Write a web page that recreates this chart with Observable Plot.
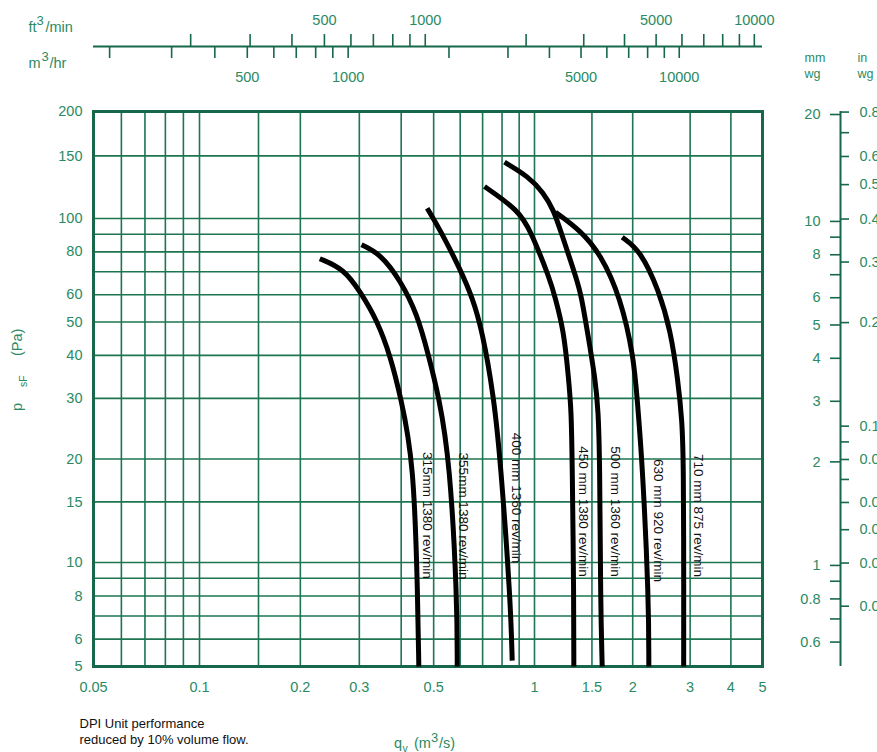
<!DOCTYPE html>
<html><head><meta charset="utf-8">
<script src="https://cdn.jsdelivr.net/npm/d3@7"></script>
<script src="https://cdn.jsdelivr.net/npm/@observablehq/plot@0.6"></script>
<style>
html,body{margin:0;padding:0;background:#fff;}
#chart svg{display:block;}
</style></head><body><div id="chart"></div>
<script>
// ---- axis / grid values ----
const xGrid = [0.06,0.07,0.08,0.09,0.1,0.15,0.2,0.3,0.4,0.5,0.6,0.7,0.8,0.9,1,1.5,2,3,4];
const xTickLabels = [0.05,0.1,0.2,0.3,0.5,1,1.5,2,3,4,5];
const yGrid = [6,7,8,9,10,15,20,30,40,50,60,70,80,90,100,150];
const yTickLabels = [5,6,8,10,15,20,30,40,50,60,80,100,150,200];
const ftTicks = [200,300,400,500,600,700,800,900,1000,2000,3000,4000,5000,6000,7000,8000,9000,10000];
const ftLabels = [500,1000,5000,10000];
const m3hTicks = [200,300,400,500,600,700,800,900,1000,2000,3000,4000,5000,6000,7000,8000,9000,10000];
const m3hLabels = [500,1000,5000,10000];
const mmTicks = [20,10,9,8,7,6,5,4,3,2,1,0.9,0.8,0.7,0.6];
const mmLabels = [20,10,8,6,5,4,3,2,1,0.8,0.6];
const inTicks = [0.8,0.7,0.6,0.5,0.4,0.3,0.2,0.1,0.09,0.08,0.07,0.06,0.05,0.04,0.03];
const inLabels = [0.8,0.6,0.5,0.4,0.3,0.2,0.1,0.08,0.06,0.05,0.04,0.03];

// unit conversions to m3/s and Pa
const FT3MIN = 0.000471947, M3HR = 1/3600, MMWG = 9.80665, INWG = 249.089;

// ---- fan curves: qv (m3/s), psF (Pa) ----
const curveNames = ["315mm 1380 rev/min","355mm 1380 rev/min","400 mm 1360 rev/min","450 mm 1380 rev/min","500 mm 1360 rev/min","630 mm 920 rev/min","710 mm 875 rev/min"];
const qv315 = [0.2286,0.2696,0.3024,0.3392,0.3717,0.3981,0.4362,0.4484,0.4515];
const p315  = [76.4,71.4,61.1,50.5,39.7,30.4,19.8,7.76,5];
const qv355 = [0.3045,0.347,0.3981,0.4466,0.4836,0.518,0.5587,0.5879,0.5879];
const p355  = [83.9,78.9,66.0,52.8,39.7,30.4,19.8,7.76,5];
const qv400 = [0.4783,0.5241,0.6013,0.6517,0.6981,0.7558,0.7914,0.8481,0.8579];
const p400  = [106.9,92.3,70.9,59.05,47.3,30.4,19.8,7.76,5.2];
const qv450 = [0.7091,0.8977,0.973,1.1196,1.1556,1.2297,1.2739,1.2959,1.3051,1.3199,1.3199];
const p450  = [123.0,105.3,92.3,66.0,59.05,47.3,33.8,27.7,19.8,7.76,5];
const qv500 = [0.8136,0.9596,1.0656,1.146,1.2014,1.3519,1.3936,1.4506,1.5382,1.5678,1.5856,1.5934,1.6127];
const p500  = [144.0,131.2,118.3,105.3,92.3,66.0,59.05,47.3,33.8,27.7,19.8,7.76,5];
const qv630 = [1.1598,1.3836,1.5934,1.8349,2.0161,2.065,2.1394,2.2411,2.2411];
const p630  = [104.2,92.3,78.9,59.05,39.5,29.6,19.8,7.76,5];
const qv710 = [1.8572,2.1134,2.4049,2.6122,2.7542,2.8333,2.8635,2.868,2.866];
const p710  = [88.2,80.7,61.75,47.3,33.8,25.9,19.8,7.76,5];
const curveQ = [qv315,qv355,qv400,qv450,qv500,qv630,qv710];
const curveP = [p315,p355,p400,p450,p500,p630,p710];

// curve label anchors (data units)
const labelQ = [0.4793,0.6138,0.8837,1.413,1.772,2.399,3.183];
const labelP = [13.7,13.65,15.4,14.07,14.07,13.25,13.7];

const rows = curveNames.flatMap((name,i) => curveQ[i].map((q,j) => ({name, q, p: curveP[i][j]})));
const labels = curveNames.map((name,i) => ({name, q: labelQ[i], p: labelP[i]}));

const LINE = "#1d7552", FRAME = "#17684a", TXT = "#2b8a63";
const FS = 14.5;
const yMax = 200, xMax = 5;
const T = {fill: TXT, fontSize: FS, lineAnchor: "middle"};

const chart = Plot.plot({
  width: 877, height: 752,
  marginLeft: 93, marginRight: 115, marginTop: 111, marginBottom: 86,
  style: {fontFamily: "'Liberation Sans', Arial, sans-serif", fontSize: "14px", background: "#fff"},
  x: {type: "log", domain: [0.05, 0.1, 1, 5], range: [93, 199, 534, 762], axis: null},
  y: {type: "log", domain: [5, 10, 100, 200], range: [666, 562, 218, 111], axis: null},
  marks: [
    Plot.ruleX(xGrid, {x: d => d, stroke: LINE, strokeWidth: 1.6}),
    Plot.ruleY(yGrid, {y: d => d, stroke: LINE, strokeWidth: 1.6}),
    Plot.frame({stroke: FRAME, strokeWidth: 3}),
    Plot.line(rows, {x: "q", y: "p", z: "name", stroke: "#000", strokeWidth: 5, curve: "basis", strokeLinecap: "butt", strokeLinejoin: "round"}),
    Plot.text(labels, {x: "q", y: "p", text: "name", rotate: 90, fill: "#111", fontSize: 13.5, lineAnchor: "middle"}),
    // bottom tick labels
    Plot.text(xTickLabels, {...T, x: d => d, text: d => String(d), frameAnchor: "bottom", dy: 21}),
    // left tick labels
    Plot.text(yTickLabels, {...T, y: d => d, text: d => String(d), frameAnchor: "left", dx: -11, textAnchor: "end"}),
    // top secondary axis (ft3/min above, m3/hr below)
    Plot.ruleY([yMax], {y: d => d, dy: -65, stroke: FRAME, strokeWidth: 2}),
    Plot.ruleX(ftTicks, {x: d => d * FT3MIN, y1: yMax, y2: yMax, insetTop: -77, insetBottom: 65, stroke: FRAME, strokeWidth: 1.6}),
    Plot.ruleX(m3hTicks, {x: d => d * M3HR, y1: yMax, y2: yMax, insetTop: -65, insetBottom: 53, stroke: FRAME, strokeWidth: 1.6}),
    Plot.text(ftLabels, {...T, x: d => d * FT3MIN, text: d => String(d), frameAnchor: "top", dy: -91}),
    Plot.text(m3hLabels, {...T, x: d => d * M3HR, text: d => String(d), frameAnchor: "top", dy: -34}),
    Plot.text(["ft"], {...T, frameAnchor: "top-left", dx: -65, dy: -84, textAnchor: "start"}),
    Plot.text(["3"], {...T, frameAnchor: "top-left", dx: -57, dy: -91, textAnchor: "start", fontSize: 13}),
    Plot.text(["/min"], {...T, frameAnchor: "top-left", dx: -48, dy: -84, textAnchor: "start"}),
    Plot.text(["m"], {...T, frameAnchor: "top-left", dx: -65, dy: -48, textAnchor: "start"}),
    Plot.text(["3"], {...T, frameAnchor: "top-left", dx: -52, dy: -55, textAnchor: "start", fontSize: 13}),
    Plot.text(["/hr"], {...T, frameAnchor: "top-left", dx: -44, dy: -48, textAnchor: "start"}),
    // right secondary axis (mm wg left, in wg right)
    Plot.ruleX([xMax], {x: d => d, dx: 78, stroke: FRAME, strokeWidth: 2}),
    Plot.ruleY(mmTicks, {y: d => d * MMWG, x1: xMax, x2: xMax, insetLeft: 68, insetRight: -78, stroke: FRAME, strokeWidth: 1.6}),
    Plot.ruleY(inTicks, {y: d => d * INWG, x1: xMax, x2: xMax, insetLeft: 78, insetRight: -87, stroke: FRAME, strokeWidth: 1.6}),
    Plot.text(mmLabels, {...T, y: d => d * MMWG, text: d => String(d), frameAnchor: "right", dx: 58, textAnchor: "end"}),
    Plot.text(inLabels, {...T, y: d => d * INWG, text: d => String(d), frameAnchor: "right", dx: 97, textAnchor: "start"}),
    Plot.text(["mm"], {...T, frameAnchor: "top-right", dx: 42, dy: -54, textAnchor: "start", fontSize: 12.5}),
    Plot.text(["wg"], {...T, frameAnchor: "top-right", dx: 42, dy: -38, textAnchor: "start", fontSize: 12.5}),
    Plot.text(["in"], {...T, frameAnchor: "top-right", dx: 95, dy: -54, textAnchor: "start", fontSize: 12.5}),
    Plot.text(["wg"], {...T, frameAnchor: "top-right", dx: 95, dy: -38, textAnchor: "start", fontSize: 12.5}),
    // y title p_sF (Pa)
    Plot.text(["p"], {...T, frameAnchor: "left", dx: -76, dy: 22, rotate: -90}),
    Plot.text(["sF"], {...T, frameAnchor: "left", dx: -70, dy: -2, rotate: -90, fontSize: 10.5}),
    Plot.text(["(Pa)"], {...T, frameAnchor: "left", dx: -76, dy: -33, rotate: -90}),
    // x title q_v (m3/s)
    Plot.text(["q"], {...T, frameAnchor: "bottom", dx: -30, dy: 77}),
    Plot.text(["v"], {...T, frameAnchor: "bottom", dx: -23, dy: 82, fontSize: 10.5}),
    Plot.text(["(m"], {...T, frameAnchor: "bottom", dx: -14, dy: 77, textAnchor: "start"}),
    Plot.text(["3"], {...T, frameAnchor: "bottom", dx: 3, dy: 71, textAnchor: "start", fontSize: 13}),
    Plot.text(["/s)"], {...T, frameAnchor: "bottom", dx: 11, dy: 77, textAnchor: "start"}),
    // caption
    Plot.text(["DPI Unit performance\nreduced by 10% volume flow."], {frameAnchor: "bottom-left", dx: -14, dy: 64, textAnchor: "start", lineAnchor: "middle", lineHeight: 1.23, fill: "#111", fontSize: 13})
  ]
});
document.getElementById("chart").append(chart);
</script></body></html>
